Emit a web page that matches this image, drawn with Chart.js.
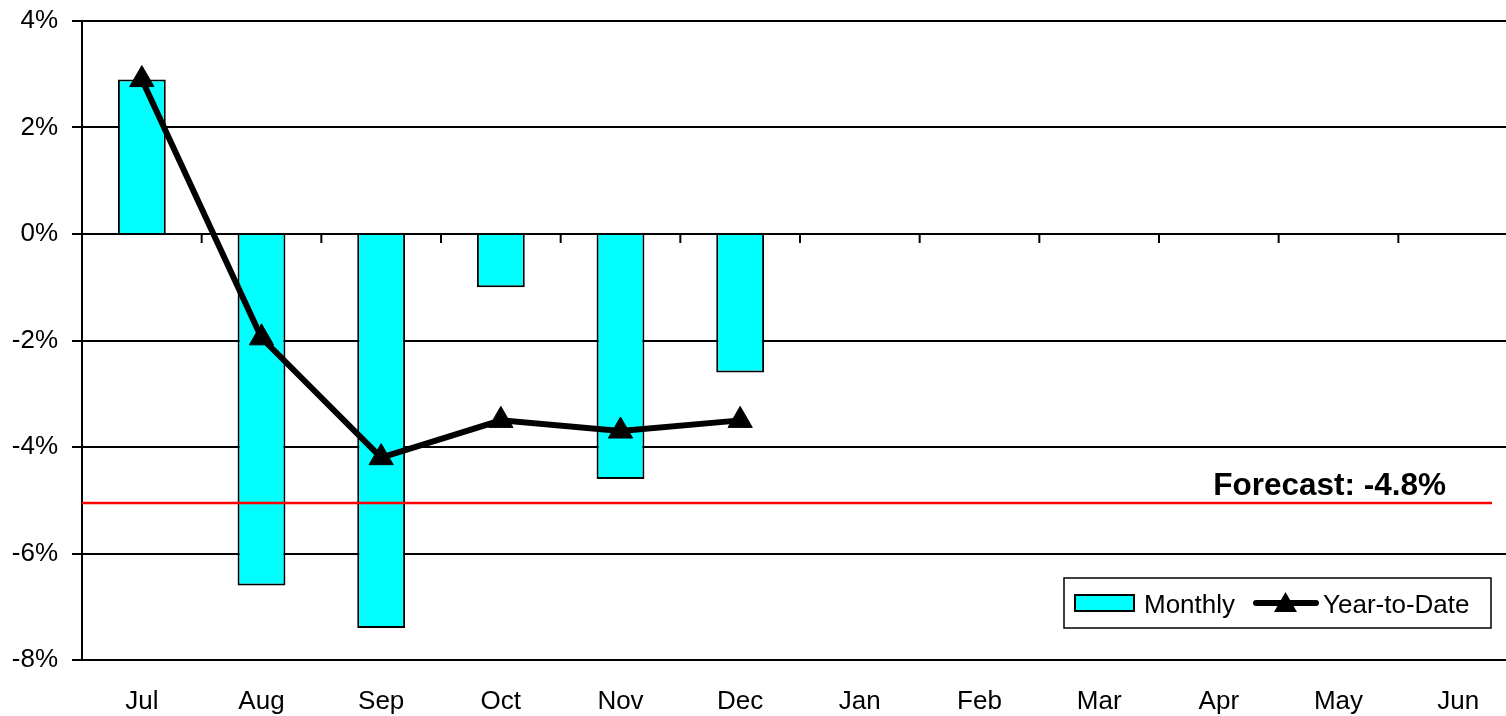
<!DOCTYPE html>
<html lang="en">
<head>
    <meta charset="UTF-8">
    <title>Monthly vs Year-to-Date</title>
    <script src="https://cdn.jsdelivr.net/npm/chart.js"></script>
    <style>
        html, body {
            margin: 0;
            padding: 0;
            background: #ffffff;
            overflow: hidden;
        }
        .frame {
            width: 1506px;
            height: 716px;
            overflow: hidden;
        }
        .plot {
            position: relative;
            width: 1518px;
            height: 716px;
        }
    </style>
</head>
<body>
    <div class="frame">
        <div class="plot">
            <canvas id="chart"></canvas>
        </div>
    </div>

    <script>
        // data
        const months = ['Jul', 'Aug', 'Sep', 'Oct', 'Nov', 'Dec', 'Jan', 'Feb', 'Mar', 'Apr', 'May', 'Jun'];
        const monthly = [2.9, -6.6, -7.4, -1.0, -4.6, -2.6, null, null, null, null, null, null];
        const yearToDate = [2.9, -1.95, -4.2, -3.5, -3.7, -3.5, null, null, null, null, null, null];
        const yMin = -8;
        const yMax = 4;
        const yStep = 2;
        const forecastLevel = -5.05;
        const forecastText = 'Forecast: -4.8%';

        const FONT = '"Liberation Sans", Arial, sans-serif';

        // small tick marks hanging under the 0% line between months
        const zeroTicks = {
            id: 'zeroTicks',
            beforeDatasetsDraw(chart) {
                const x = chart.scales.x;
                const y0 = chart.scales.y.getPixelForValue(0);
                const ctx = chart.ctx;
                ctx.save();
                ctx.strokeStyle = '#000';
                ctx.lineWidth = 2;
                for (let i = 1; i < months.length; i++) {
                    const px = (x.getPixelForValue(i - 1) + x.getPixelForValue(i)) / 2;
                    ctx.beginPath();
                    ctx.moveTo(px, y0);
                    ctx.lineTo(px, y0 + 9);
                    ctx.stroke();
                }
                ctx.restore();
            }
        };

        // red forecast line and its label
        const forecast = {
            id: 'forecast',
            afterDatasetsDraw(chart) {
                const area = chart.chartArea;
                const py = chart.scales.y.getPixelForValue(forecastLevel);
                const ctx = chart.ctx;
                ctx.save();
                ctx.strokeStyle = '#ff0000';
                ctx.lineWidth = 2.5;
                ctx.beginPath();
                ctx.moveTo(area.left, py);
                ctx.lineTo(1492, py);
                ctx.stroke();
                ctx.fillStyle = '#000';
                ctx.font = 'bold 31.5px ' + FONT;
                ctx.textAlign = 'right';
                ctx.textBaseline = 'alphabetic';
                ctx.fillText(forecastText, 1446, py - 8);
                ctx.restore();
            }
        };

        // boxed legend inside the plot, bottom right
        const boxLegend = {
            id: 'boxLegend',
            afterDraw(chart) {
                const ctx = chart.ctx;
                const bar = chart.data.datasets[0];
                const line = chart.data.datasets[1];
                ctx.save();
                ctx.fillStyle = '#fff';
                ctx.fillRect(1064, 578, 427, 50);
                ctx.strokeStyle = '#000';
                ctx.lineWidth = 1.5;
                ctx.strokeRect(1064, 578, 427, 50);

                ctx.fillStyle = bar.backgroundColor;
                ctx.fillRect(1075, 595, 59, 16);
                ctx.lineWidth = 2;
                ctx.strokeRect(1075, 595, 59, 16);

                ctx.strokeStyle = line.borderColor;
                ctx.lineWidth = 6;
                ctx.lineCap = 'round';
                ctx.beginPath();
                ctx.moveTo(1256, 603);
                ctx.lineTo(1316, 603);
                ctx.stroke();
                ctx.fillStyle = line.pointBackgroundColor;
                ctx.beginPath();
                ctx.moveTo(1285.5, 592);
                ctx.lineTo(1297, 612);
                ctx.lineTo(1274, 612);
                ctx.closePath();
                ctx.fill();

                ctx.fillStyle = '#000';
                ctx.font = '26px ' + FONT;
                ctx.textBaseline = 'alphabetic';
                ctx.textAlign = 'left';
                ctx.fillText(bar.label, 1144, 613);
                ctx.fillText(line.label, 1323, 613);
                ctx.restore();
            }
        };

        const ctx = document.getElementById('chart').getContext('2d');
        new Chart(ctx, {
            data: {
                labels: months,
                datasets: [{
                    type: 'bar',
                    label: 'Monthly',
                    data: monthly,
                    backgroundColor: '#00ffff',
                    borderColor: '#000',
                    borderWidth: 2,
                    barPercentage: 0.4,
                    categoryPercentage: 1,
                    order: 1
                }, {
                    type: 'line',
                    label: 'Year-to-Date',
                    data: yearToDate,
                    borderColor: '#000',
                    borderWidth: 6,
                    pointStyle: 'triangle',
                    pointRadius: 14,
                    pointBackgroundColor: '#000',
                    pointBorderColor: '#000',
                    pointBorderWidth: 1,
                    tension: 0,
                    spanGaps: false,
                    order: 0
                }]
            },
            options: {
                responsive: true,
                maintainAspectRatio: false,
                animation: false,
                layout: {
                    autoPadding: false,
                    padding: { top: 21, right: 0, bottom: 0, left: 0 }
                },
                plugins: {
                    legend: { display: false },
                    tooltip: { enabled: false }
                },
                scales: {
                    x: {
                        grid: { display: false, drawTicks: false },
                        border: { display: false },
                        ticks: {
                            color: '#000',
                            padding: 26,
                            maxRotation: 0,
                            autoSkip: false,
                            font: { family: FONT, size: 26 }
                        },
                        afterFit(scale) {
                            scale.height = 56;
                            scale.paddingLeft = 0;
                            scale.paddingRight = 0;
                        }
                    },
                    y: {
                        min: yMin,
                        max: yMax,
                        grid: {
                            color: '#000',
                            lineWidth: 2,
                            tickLength: 10,
                            drawTicks: true
                        },
                        border: { display: true, color: '#000', width: 2 },
                        ticks: {
                            stepSize: yStep,
                            color: '#000',
                            padding: 14,
                            font: { family: FONT, size: 26 },
                            callback: v => v + '%'
                        },
                        afterFit(scale) {
                            scale.width = 82;
                            scale.paddingTop = 0;
                            scale.paddingBottom = 0;
                        }
                    }
                }
            },
            plugins: [zeroTicks, forecast, boxLegend]
        });
    </script>
</body>
</html>
